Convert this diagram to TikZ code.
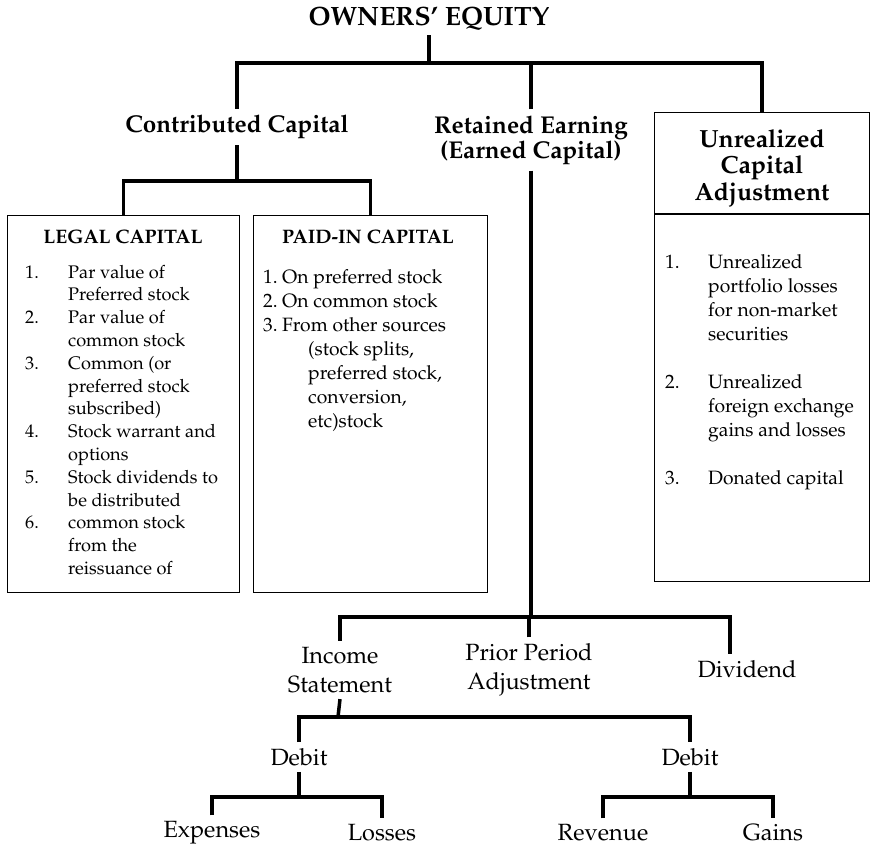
\documentclass[tikz,border=0pt]{standalone}
\usepackage[T1]{fontenc}
\usepackage{mathpazo}
\usetikzlibrary{positioning}

\begin{document}
\begin{tikzpicture}[x=1pt,y=-1pt,
	toptitle/.style={font=\fontsize{26.5}{30}\selectfont\bfseries,inner sep=4pt},
	heading/.style={font=\fontsize{24.3}{25}\selectfont\bfseries,align=center,inner xsep=4pt,inner ysep=6pt},
	leaf/.style={font=\fontsize{23.5}{29}\selectfont,align=center,inner xsep=4pt,inner ysep=6pt},
	panel/.style={draw,line width=1.2pt,inner sep=0pt},
	panelhead/.style={font=\fontsize{19.5}{22}\selectfont\bfseries,inner sep=2pt},
	itemlist/.style={font=\fontsize{18.2}{22.8}\selectfont,inner sep=0pt,anchor=base west},
	branch/.style={line width=3.5pt,line join=miter}]

	\useasboundingbox (0,0) rectangle (870,846);

	\node[toptitle] (OE) at (429,19) {OWNERS' EQUITY};

	\node[heading] (CC) at (237,127) {Contributed Capital};
	\node[heading] (RE) at (531,140) {Retained Earning\\(Earned Capital)};
	\node[panel,minimum width=215pt,minimum height=101pt,anchor=north west] (UH) at (654,112) {};
	\node[panel,minimum width=215pt,minimum height=367pt,below=0pt of UH] (UB) {};
	\node[heading,font=\fontsize{24.8}{26.5}\selectfont\bfseries] (UHT) at (762,168) {Unrealized\\Capital\\Adjustment};

	\node[panel,minimum width=232pt,minimum height=377pt,anchor=north west] (LC) at (7,215) {};
	\node[panel,minimum width=234pt,minimum height=377pt,anchor=north west] (PC) at (253,215) {};

	\node[panelhead] (LCH) at (123,237) {LEGAL CAPITAL};
	\node[itemlist] (LCL) at (25,278) {\begin{tabular}[t]{@{}p{43pt}@{}l@{}}
		1. & Par value of\\
		   & Preferred stock\\
		2. & Par value of\\
		   & common stock\\
		3. & Common (or\\
		   & preferred stock\\
		   & subscribed)\\
		4. & Stock warrant and\\
		   & options\\
		5. & Stock dividends to\\
		   & be distributed\\
		6. & common stock\\
		   & from the\\
		   & reissuance of
	\end{tabular}};

	\node[panelhead] (PCH) at (368,237) {PAID-IN CAPITAL};
	\node[itemlist,font=\fontsize{19.3}{24}\selectfont] (PCL) at (263,283) {\begin{tabular}[t]{@{}p{19pt}@{}l@{}}
		1. & On preferred stock\\
		2. & On common stock\\
		3. & From other sources\\
		   & \hspace{26pt}(stock splits,\\
		   & \hspace{26pt}preferred stock,\\
		   & \hspace{26pt}conversion,\\
		   & \hspace{26pt}etc)stock
	\end{tabular}};

	\node[itemlist,font=\fontsize{19.3}{24}\selectfont] (UCL) at (665,268) {\begin{tabular}[t]{@{}p{43pt}@{}l@{}}
		1. & Unrealized\\
		   & portfolio losses\\
		   & for non-market\\
		   & securities\\
		   & \\
		2. & Unrealized\\
		   & foreign exchange\\
		   & gains and losses\\
		   & \\
		3. & Donated capital
	\end{tabular}};

	\node[leaf] (IS) at (340,670) {Income\\Statement};
	\node[leaf] (PP) at (529,670) {Prior Period\\Adjustment};
	\node[leaf] (DV) at (747,669) {Dividend};

	\node[leaf] (DL) at (299,757) {Debit};
	\node[leaf] (DR) at (690,757) {Debit};

	\node[leaf] (EX) at (212,833) {Expenses};
	\node[leaf] (LO) at (382,833) {Losses};
	\node[leaf] (RV) at (603,833) {Revenue};
	\node[leaf] (GA) at (773,833) {Gains};

	\coordinate (J1) at (429,63);
	\coordinate (J2) at (237,181);
	\coordinate (J3) at (531,617);
	\coordinate (J4) at (338,717);
	\coordinate (J5) at (299,797);
	\coordinate (J6) at (690,797);

	\draw[branch] (OE.south) -- (J1);
	\draw[branch] (CC.north) |- (J1) -| (UH.north);
	\draw[branch] (RE.north) -- (RE.north |- J1);

	\draw[branch] (CC.south) -- (J2);
	\draw[branch] (LC.north) |- (J2) -| (PC.north);

	\draw[branch] (RE.south) -- (J3);
	\draw[branch] (IS.north) |- (J3) -| ([xshift=-17pt]DV.north);
	\draw[branch] (PP.north) -- (PP.north |- J3);

	\draw[branch] (IS.south) -- (J4);
	\draw[branch] (DL.north) |- (J4) -| (DR.north);

	\draw[branch] (DL.south) -- (J5);
	\draw[branch] (EX.north) |- (J5) -| (LO.north);
	\draw[branch] (DR.south) -- (J6);
	\draw[branch] (RV.north) |- (J6) -| (GA.north);
\end{tikzpicture}
\end{document}
